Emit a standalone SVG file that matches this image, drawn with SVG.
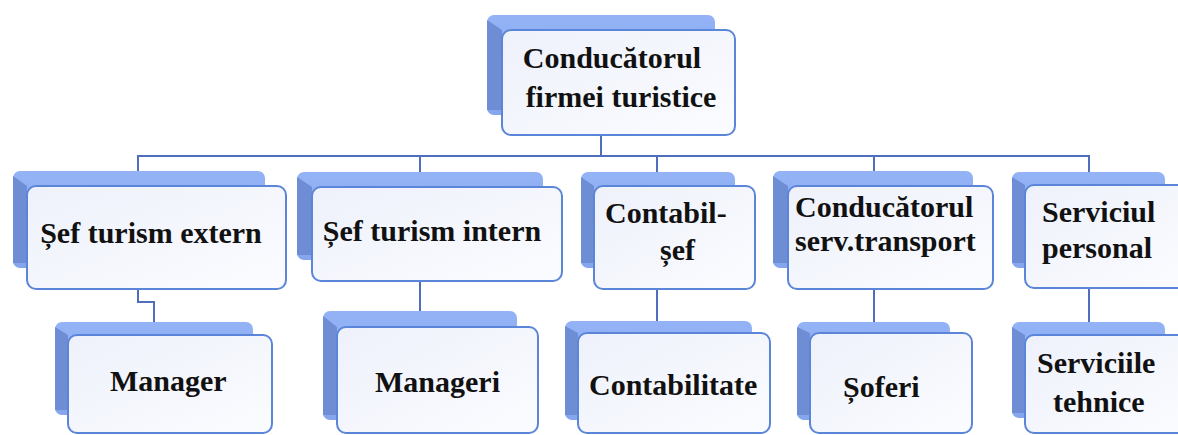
<svg xmlns="http://www.w3.org/2000/svg" width="1178" height="435" viewBox="0 0 1178 435">
<defs>
<linearGradient id="bk" x1="0" y1="0" x2="0" y2="1">
<stop offset="0" stop-color="#93b3f6"/>
<stop offset="1" stop-color="#85a5ec"/>
</linearGradient>
<linearGradient id="fr" x1="0" y1="0" x2="1" y2="1">
<stop offset="0" stop-color="#eef1fb"/>
<stop offset="1" stop-color="#fbfcff"/>
</linearGradient>
</defs>
<style>
.back{fill:url(#bk);}
.bevel{fill:#6f8dd4;}
.front{fill:url(#fr);stroke:#5b85d8;stroke-width:2;}
.t{font-family:"Liberation Serif","Times New Roman",serif;font-weight:bold;font-size:30px;fill:#111;}
.c{fill:none;stroke:#4f6fbd;stroke-width:2;}
</style>
<rect width="1178" height="435" fill="#ffffff"/>
<g id="connectors">
<line class="c" x1="601" y1="135" x2="601" y2="156"/>
<line class="c" x1="137" y1="156" x2="1090" y2="156"/>
<line class="c" x1="138" y1="156" x2="138" y2="186"/>
<line class="c" x1="420" y1="156" x2="420" y2="187"/>
<line class="c" x1="657" y1="156" x2="657" y2="186"/>
<line class="c" x1="874" y1="156" x2="874" y2="186"/>
<line class="c" x1="1089" y1="156" x2="1089" y2="185"/>
<polyline class="c" points="138,289 138,302 154,302 154,322"/>
<line class="c" x1="420" y1="281" x2="420" y2="312"/>
<line class="c" x1="657" y1="289" x2="657" y2="322"/>
<line class="c" x1="874" y1="289" x2="874" y2="322"/>
<line class="c" x1="1089" y1="288" x2="1089" y2="322"/>
</g>
<g id="n-top">
<rect class="back" x="487" y="15" width="228" height="100" rx="7"/>
<polygon class="bevel" points="487,20 502,30 502,110 487,110"/>
<rect class="front" x="502" y="30" width="233" height="105" rx="9"/>
<text class="t" x="612" y="68" text-anchor="middle">Conducătorul</text>
<text class="t" x="621" y="107" text-anchor="middle">firmei turistice</text>
</g>
<g id="n-extern">
<rect class="back" x="13" y="171" width="252" height="97" rx="7"/>
<polygon class="bevel" points="13,176 27,186 27,263 13,263"/>
<rect class="front" x="27" y="186" width="259" height="103" rx="9"/>
<text class="t" x="151" y="243" text-anchor="middle">Șef turism extern</text>
</g>
<g id="n-intern">
<rect class="back" x="297" y="172" width="246" height="88" rx="7"/>
<polygon class="bevel" points="297,177 312,187 312,255 297,255"/>
<rect class="front" x="312" y="187" width="250" height="94" rx="9"/>
<text class="t" x="432" y="241" text-anchor="middle">Șef turism intern</text>
</g>
<g id="n-contabil">
<rect class="back" x="581" y="172" width="154" height="96" rx="7"/>
<polygon class="bevel" points="581,177 594,186 594,263 581,263"/>
<rect class="front" x="594" y="186" width="161" height="103" rx="9"/>
<text class="t" x="605" y="223">Contabil-</text>
<text class="t" x="660" y="260">șef</text>
</g>
<g id="n-transport">
<rect class="back" x="773" y="171" width="200" height="97" rx="7"/>
<polygon class="bevel" points="773,176 788,186 788,263 773,263"/>
<rect class="front" x="788" y="186" width="205" height="103" rx="9"/>
<text class="t" x="795" y="217">Conducătorul</text>
<text class="t" x="795" y="251">serv.transport</text>
</g>
<g id="n-personal">
<rect class="back" x="1012" y="172" width="153" height="96" rx="7"/>
<polygon class="bevel" points="1012,177 1025,185 1025,263 1012,263"/>
<rect class="front" x="1025" y="185" width="170" height="103" rx="9"/>
<text class="t" x="1042" y="222">Serviciul</text>
<text class="t" x="1042" y="258">personal</text>
</g>
<g id="n-manager">
<rect class="back" x="55" y="322" width="198" height="93" rx="7"/>
<polygon class="bevel" points="55,327 68,335 68,410 55,410"/>
<rect class="front" x="68" y="335" width="204" height="98" rx="9"/>
<text class="t" x="110" y="391">Manager</text>
</g>
<g id="n-manageri">
<rect class="back" x="323" y="311" width="194" height="109" rx="7"/>
<polygon class="bevel" points="323,316 337,327 337,415 323,415"/>
<rect class="front" x="337" y="327" width="201" height="106" rx="9"/>
<text class="t" x="375" y="392">Manageri</text>
</g>
<g id="n-contabilitate">
<rect class="back" x="565" y="321" width="187" height="99" rx="7"/>
<polygon class="bevel" points="565,326 578,333 578,415 565,415"/>
<rect class="front" x="578" y="333" width="192" height="100" rx="9"/>
<text class="t" x="589" y="395">Contabilitate</text>
</g>
<g id="n-soferi">
<rect class="back" x="797" y="322" width="153" height="98" rx="7"/>
<polygon class="bevel" points="797,327 810,333 810,415 797,415"/>
<rect class="front" x="810" y="333" width="162" height="100" rx="9"/>
<text class="t" x="843" y="397">Șoferi</text>
</g>
<g id="n-tehnice">
<rect class="back" x="1012" y="322" width="153" height="96" rx="7"/>
<polygon class="bevel" points="1012,327 1025,335 1025,413 1012,413"/>
<rect class="front" x="1025" y="335" width="170" height="98" rx="9"/>
<text class="t" x="1037" y="373">Serviciile</text>
<text class="t" x="1053" y="412">tehnice</text>
</g>
</svg>
